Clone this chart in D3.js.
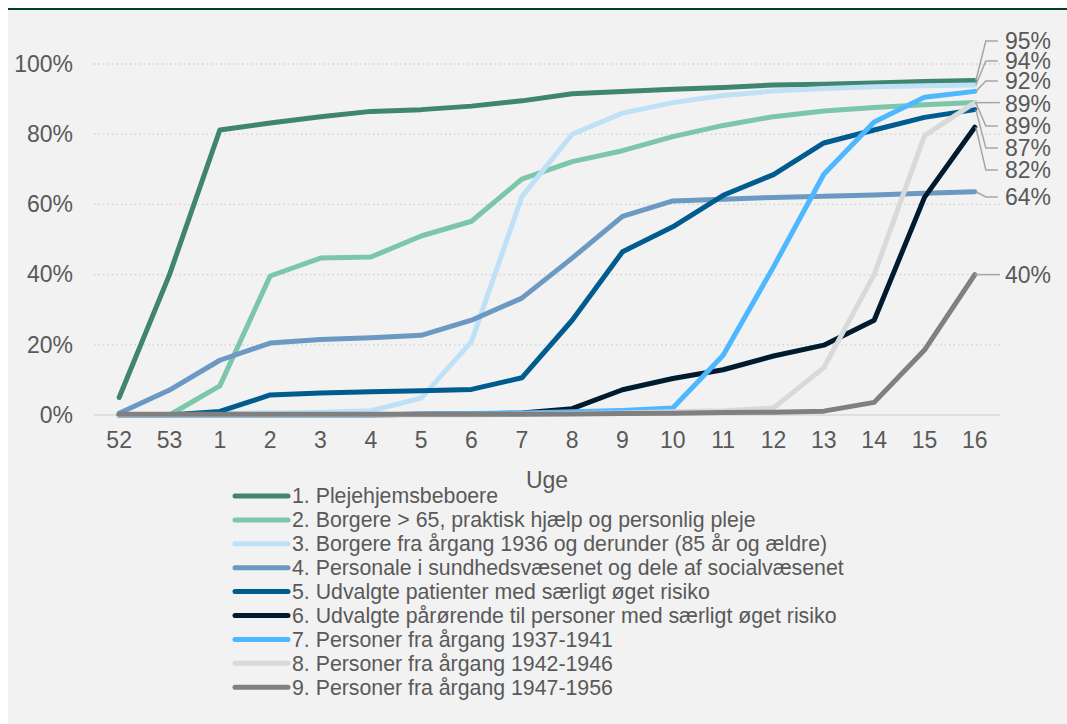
<!DOCTYPE html>
<html><head><meta charset="utf-8">
<script src="https://cdn.jsdelivr.net/npm/d3@7"></script>
<style>
html,body{margin:0;padding:0;background:#fff;}
svg{display:block;font-family:"Liberation Sans",Arial,sans-serif;}
</style></head>
<body>
<svg id="chart" width="1067" height="724"></svg>
<script>
const weeks = ["52","53","1","2","3","4","5","6","7","8","9","10","11","12","13","14","15","16"];
const yTicks = [0,20,40,60,80,100];
const seriesNames = [
  "1. Plejehjemsbeboere",
  "2. Borgere > 65, praktisk hjælp og personlig pleje",
  "3. Borgere fra årgang 1936 og derunder (85 år og ældre)",
  "4. Personale i sundhedsvæsenet og dele af socialvæsenet",
  "5. Udvalgte patienter med særligt øget risiko",
  "6. Udvalgte pårørende til personer med særligt øget risiko",
  "7. Personer fra årgang 1937-1941",
  "8. Personer fra årgang 1942-1946",
  "9. Personer fra årgang 1947-1956"
];
const colors = ["#3f8570","#7cc6aa","#bfe1f7","#6b99c3","#005b8e","#001b2e","#4db8ff","#d9d9d9","#808080"];
const s1 = [5,40,81.2,83.2,85,86.5,87,88,89.5,91.5,92.2,92.8,93.3,94,94.2,94.6,95,95.3];
const s2 = [null,0,8.3,39.6,44.7,45,51,55.2,67.2,72.2,75.3,79.3,82.5,85,86.6,87.6,88.4,89];
const s3 = [0,0,0.4,0.6,0.8,1.2,4.8,20.9,62.2,80,86,89,91,92.3,93,93.5,93.8,94];
const s4 = [0.5,7.1,15.6,20.5,21.5,22,22.7,27,33.3,44.7,56.6,61,61.5,62,62.3,62.7,63.2,63.6];
const s5 = [0,0,1,5.7,6.3,6.6,6.9,7.3,10.6,27,46.5,53.6,62.6,68.5,77.5,81.2,84.8,87];
const s6 = [0,0,0,0,0,0,0.2,0.3,0.6,1.8,7.2,10.4,12.9,16.8,19.9,27,62,82];
const s7 = [0,0,0,0,0,0,0.3,0.4,0.6,0.9,1.3,2,17,42.2,68.6,83.5,90.5,92.2];
const s8 = [0,0,0,0,0,0,0,0,0.2,0.4,0.6,0.9,1.2,2,13.5,40,79.6,89];
const s9 = [0.2,0.2,0.2,0.2,0.2,0.2,0.2,0.2,0.2,0.3,0.4,0.5,0.7,0.8,1.1,3.6,18.5,40];
const seriesValues = [s1,s2,s3,s4,s5,s6,s7,s8,s9];
const endLabels = ["95%","94%","92%","89%","89%","87%","82%","64%","40%"];
const endOrder = [0,2,6,1,7,4,5,3,8]; // series index for each label, top to bottom
const labelY = [41,61,81,104,126,148,170,197,275];

const svg = d3.select("#chart");
// panel
svg.append("rect").attr("x",8).attr("y",8).attr("width",1059).attr("height",716).attr("fill","#f2f2f2");
svg.append("line").attr("x1",8).attr("x2",1067).attr("y1",9).attr("y2",9).attr("stroke","#003d32").attr("stroke-width",2.2);

const x = d3.scaleBand().domain(weeks).range([94,1000]);
const cx = d => x(d) + x.bandwidth()/2;
const y = d3.scaleLinear().domain([0,100]).range([415,64]);

// gridlines
const grid = svg.append("g");
grid.selectAll("line").data(yTicks.filter(t=>t>0)).join("line")
  .attr("x1",94).attr("x2",1000).attr("y1",d=>y(d)).attr("y2",d=>y(d))
  .attr("stroke","#d0d0d0").attr("stroke-width",1.3).attr("stroke-dasharray","1.5,3");
svg.append("line").attr("x1",94).attr("x2",1000).attr("y1",y(0)).attr("y2",y(0))
  .attr("stroke","#d9d9d9").attr("stroke-width",1.5);

// y axis labels
const yAxis = d3.axisLeft(y).tickValues(yTicks).tickFormat(d=>d+"%").tickSize(0).tickPadding(0);
const ya = svg.append("g").attr("transform","translate(73,0)").call(yAxis);
ya.select(".domain").remove();
ya.selectAll("text").attr("fill","#595959").attr("font-size","23px").attr("font-family","Liberation Sans, Arial, sans-serif");

// x axis labels
const xAxis = d3.axisBottom(x).tickSize(0).tickPadding(0);
const xa = svg.append("g").attr("transform","translate(0,432)").call(xAxis);
xa.select(".domain").remove();
xa.selectAll("text").attr("fill","#595959").attr("font-size","23px").attr("font-family","Liberation Sans, Arial, sans-serif");

svg.append("text").attr("x",547).attr("y",488).attr("text-anchor","middle")
  .attr("fill","#595959").attr("font-size","23px").text("Uge");

// lines
const line = d3.line().defined(d=>d.v!==null).x(d=>cx(d.w)).y(d=>y(d.v));
seriesValues.forEach((vals,i)=>{
  const pts = weeks.map((w,j)=>({w:w,v:vals[j]}));
  svg.append("path").datum(pts).attr("d",line).attr("fill","none")
    .attr("stroke",colors[i]).attr("stroke-width",5)
    .attr("stroke-linecap","round").attr("stroke-linejoin","round");
});

// end labels with leader lines
const xe = cx("16");
endOrder.forEach((si,k)=>{
  const vals = seriesValues[si];
  const v = vals[vals.length-1];
  const ly = labelY[k];
  const ey = y(v);
  const pts = Math.abs(ly-ey) < 3 ? [[xe,ey],[xe+25,ey]] : [[xe+1,ey],[xe+11,ly],[xe+23,ly]];
  svg.append("path").attr("d",d3.line()(pts)).attr("fill","none")
    .attr("stroke","#a6a6a6").attr("stroke-width",1.5);
  svg.append("text").attr("x",1005).attr("y",ly).attr("dy","0.35em")
    .attr("fill","#595959").attr("font-size","23px").text(endLabels[k]);
});

// legend
const lg = svg.append("g");
seriesNames.forEach((n,i)=>{
  const ly = 496 + i*23.9;
  lg.append("line").attr("x1",235).attr("x2",288).attr("y1",ly).attr("y2",ly)
    .attr("stroke",colors[i]).attr("stroke-width",5).attr("stroke-linecap","round");
  lg.append("text").attr("x",292).attr("y",ly).attr("dy","0.35em")
    .attr("fill","#595959").attr("font-size","21.3px").text(n);
});
</script>
</body></html>
